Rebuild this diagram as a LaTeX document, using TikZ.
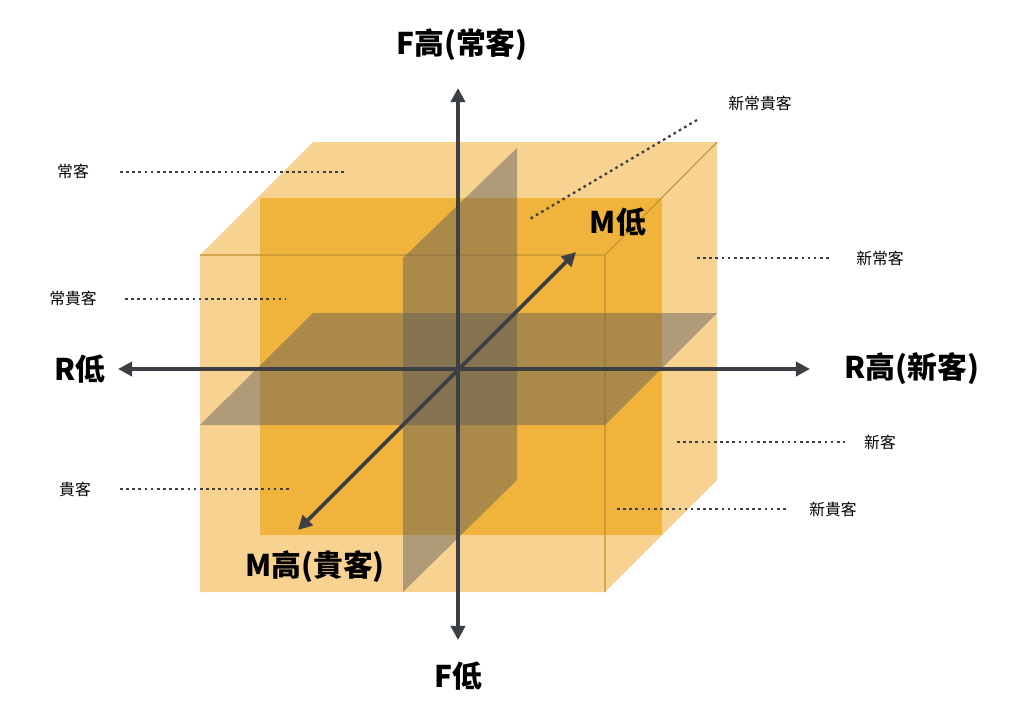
\documentclass[tikz,border=0pt]{standalone}
\usepackage{fontspec}
\newfontfamily\cjk{Noto Sans CJK TC}
\usetikzlibrary{positioning,arrows.meta}
\definecolor{lightor}{RGB}{247,210,145}
\definecolor{darkor}{RGB}{240,180,60}
\definecolor{axisgray}{RGB}{60,63,67}
\begin{document}
\begin{tikzpicture}[x=0.02cm,y=-0.02cm]
\tikzset{big/.style={font=\cjk\bfseries\fontsize{17}{17}\selectfont,inner sep=0pt},
  small/.style={font=\cjk\fontsize{9}{9}\selectfont,inner sep=0pt},
  axis/.style={axisgray,line width=2.2pt,{Triangle[length=8pt,width=8pt]}-{Triangle[length=8pt,width=8pt]}},
  dots/.style={axisgray,line width=1.3pt,dash pattern=on 1.5pt off 2pt},
  plane/.style={fill=black!65,fill opacity=0.45}}
\useasboundingbox (0,0) rectangle (1031,713);
% cube
\fill[lightor] (200,255) -- (313,142) -- (717,142) -- (717,480) -- (605,592) -- (200,592) -- cycle;
\fill[darkor] (260,198) rectangle (662,535);
\draw[darkor!80!black,line width=0.6pt] (200,255) -- (605,255) -- (605,592) (605,255) -- (717,142);
% planes
\fill[plane] (403,258) -- (517,148) -- (517,480) -- (403,592) -- cycle;
\fill[plane] (200,425) -- (313,313) -- (717,313) -- (605,425) -- cycle;
% axes
\coordinate (ftop) at (458,88);
\coordinate (fbot) at (458,640);
\coordinate (rlo) at (118,369);
\coordinate (rhi) at (810,369);
\coordinate (mlo) at (576,252);
\coordinate (mhi) at (298,530);
\draw[axis] (fbot) -- (ftop);
\draw[axis] (rlo) -- (rhi);
\draw[axis] (mhi) -- (mlo);
% labels
\node[big] (fh) at (462,45) {F高(常客)};
\node[big] (fl) at (458,676) {F低};
\node[big] (rl) at (80,369) {R低};
\node[big] (rh) at (912,369) {R高(新客)};
\node[big] (ml) at (618,222) {M低};
\node[big] (mh) at (315,567) {M高(貴客)};
\node[small] (c1) at (73,171) {常客};
\node[small] (c2) at (73,298) {常貴客};
\node[small] (c3) at (75,489) {貴客};
\node[small] (c4) at (760,103) {新常貴客};
\node[small] (c5) at (880,258) {新常客};
\node[small] (c6) at (880,442) {新客};
\node[small] (c7) at (833,509) {新貴客};
\draw[dots] (120,172) -- (345,172);
\draw[dots] (125,299) -- (285,299);
\draw[dots] (120,489) -- (292,489);
\draw[dots] (697,120) -- (528,220);
\draw[dots] (697,258) -- (830,258);
\draw[dots] (677,442) -- (845,442);
\draw[dots] (617,509) -- (787,509);
\end{tikzpicture}
\end{document}
